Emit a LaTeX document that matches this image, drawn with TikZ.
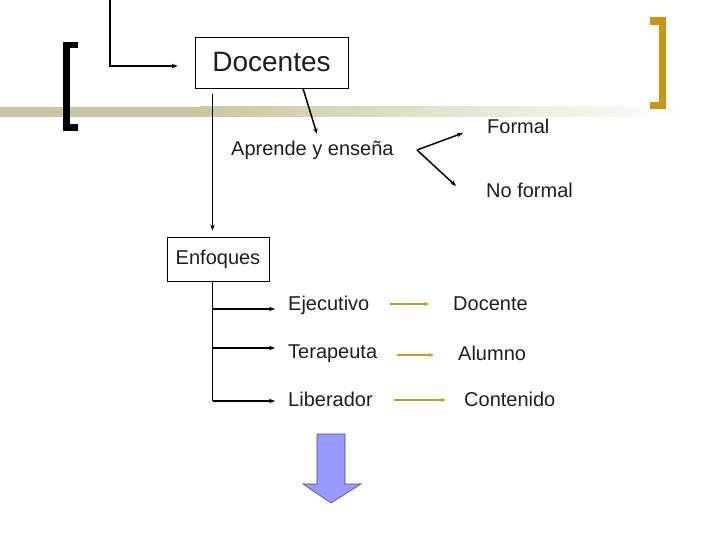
\documentclass[tikz,border=0pt]{standalone}
\usepackage{fontspec}
\setmainfont{Liberation Sans}
\usetikzlibrary{arrows.meta,calc}
\definecolor{olive}{RGB}{200,200,160}
\definecolor{goldbr}{RGB}{200,150,20}
\definecolor{goldar}{RGB}{190,160,50}
\definecolor{txt}{RGB}{30,30,30}
\definecolor{lav}{RGB}{153,153,255}
\definecolor{lavd}{RGB}{70,70,130}
\tikzset{
  arr/.style={draw=black,line width=1.5pt,-{Stealth[length=6pt,width=4.5pt]}},
  garr/.style={draw=goldar,line width=1.8pt,-{Stealth[length=5pt,width=4pt]}},
  box/.style={draw=black,line width=0.8pt,text=txt,inner sep=0pt},
  lbl/.style={text=txt,inner sep=0pt,font=\fontsize{20}{24}\selectfont}
}
\begin{document}
\begin{tikzpicture}[x=1pt,y=-1pt]
\useasboundingbox (0,0) rectangle (720,540);
% band
\fill[olive] (0,107) rectangle (200,117);
\shade[left color=olive,right color=white] (199.5,107) rectangle (690,117);
% left bracket
\fill[black] (63,42) rectangle (70,131);
\fill[black] (63,42) rectangle (78,48);
\fill[black] (63,124) rectangle (78,131);
% right bracket
\fill[goldbr] (659,17) rectangle (666,109);
\fill[goldbr] (650,17) rectangle (666,25);
\fill[goldbr] (650,102) rectangle (666,109);
% nodes
\node[box,minimum width=153pt,minimum height=51pt,font=\fontsize{28}{34}\selectfont] (doc) at (271.5,62.5) {Docentes};
\node[box,minimum width=102pt,minimum height=44pt,font=\fontsize{20}{24}\selectfont] (enf) at (218,259) {Enfoques};
\node[lbl,anchor=base west] (ap) at (231,156) {Aprende y enseña};
\node[lbl,anchor=base west] (fm) at (487,134) {Formal};
\node[lbl,anchor=base west] (nf) at (486,197) {No formal};
\node[lbl,anchor=base west] (ej) at (288,310) {Ejecutivo};
\node[lbl,anchor=base west] (te) at (288,358) {Terapeuta};
\node[lbl,anchor=base west] (li) at (288,406) {Liberador};
\node[lbl,anchor=base west] (dc) at (453,310) {Docente};
\node[lbl,anchor=base west] (al) at (458,360) {Alumno};
\node[lbl,anchor=base west] (co) at (464,406) {Contenido};
\coordinate (top) at (110,-2);
\coordinate (br) at (417,150);
\coordinate (ds) at ([xshift=-59pt,yshift=-6pt]doc.south);
\coordinate (j1) at (212.5,309);
\coordinate (j2) at (212.5,348);
\coordinate (j3) at (212.5,401);
% connectors
\draw[arr] (top) |- ([xshift=-17pt,yshift=-3.5pt]doc.west);
\draw[arr,shorten >=6pt] (ds) -- (ds |- enf.north);
\draw[arr] ([xshift=31.5pt]doc.south) -- ([xshift=86pt,yshift=22pt]ap.base west);
\draw[arr] (br) -- ([xshift=-24pt,yshift=1pt]fm.base west);
\draw[arr] (br) -- ([xshift=-30pt,yshift=11pt]nf.base west);
\draw[line width=1.5pt] (j1 |- enf.south) -- (j3);
\draw[arr] (j1) -- ([xshift=-13pt,yshift=1pt]ej.base west);
\draw[arr] (j2) -- ([xshift=-13pt,yshift=10pt]te.base west);
\draw[arr] (j3) -- ([xshift=-13pt,yshift=5pt]li.base west);
\coordinate (g1) at ([xshift=20pt,yshift=6pt]ej.base east);
\coordinate (g2) at ([xshift=20pt,yshift=3pt]te.base east);
\coordinate (g3) at ([xshift=21pt,yshift=6pt]li.base east);
\draw[garr] (g1) -- ([xshift=-24pt]g1 -| dc.west);
\draw[garr] (g2) -- ([xshift=-24pt]g2 -| al.west);
\draw[garr] (g3) -- ([xshift=-18pt]g3 -| co.west);
% big arrow
\filldraw[fill=lav,draw=lavd,line width=0.6pt] (317,434) -- (345,434) -- (345,484) -- (361,484) -- (331,503) -- (303,484) -- (317,484) -- cycle;
\end{tikzpicture}
\end{document}
